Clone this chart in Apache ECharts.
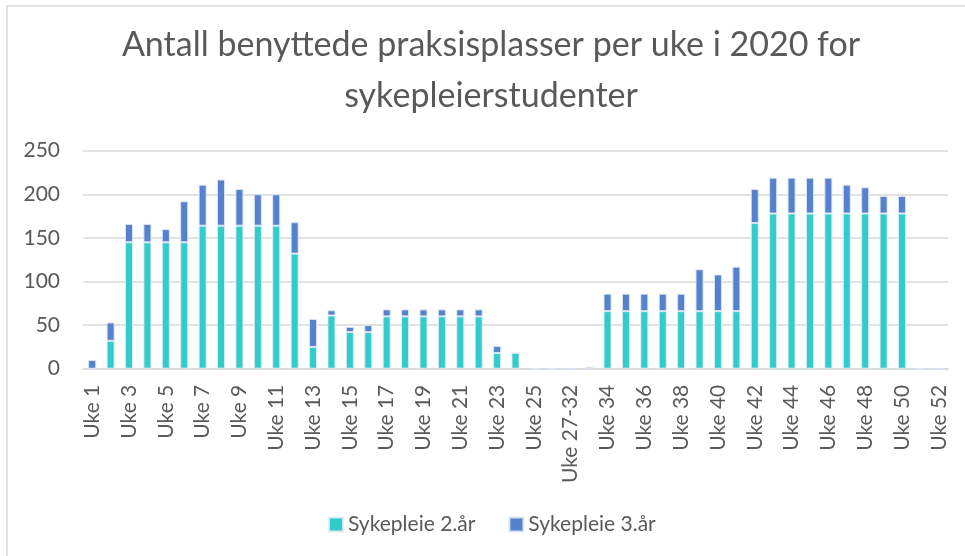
<!DOCTYPE html>
<html>
<head>
<meta charset="utf-8">
<script src="https://cdn.jsdelivr.net/npm/echarts@6/dist/echarts.min.js"></script>
<style>
html,body{margin:0;padding:0;background:#fff;}
#c{width:965px;height:556px;}
</style>
</head>
<body>
<div id="c"></div>
<script>
const categories = [
  'Uke 1','Uke 2','Uke 3','Uke 4','Uke 5','Uke 6','Uke 7','Uke 8','Uke 9','Uke 10',
  'Uke 11','Uke 12','Uke 13','Uke 14','Uke 15','Uke 16','Uke 17','Uke 18','Uke 19','Uke 20',
  'Uke 21','Uke 22','Uke 23','Uke 24','Uke 25','Uke 26','Uke 27-32','Uke 33','Uke 34','Uke 35',
  'Uke 36','Uke 37','Uke 38','Uke 39','Uke 40','Uke 41','Uke 42','Uke 43','Uke 44','Uke 45',
  'Uke 46','Uke 47','Uke 48','Uke 49','Uke 50','Uke 51','Uke 52'
];
const year2 = [
  0,32,145,145,145,145,164,164,164,164,
  164,132,25,61,42,42,60,60,60,60,
  60,60,18,18,0,0,0,0,66,66,
  66,66,66,66,66,66,167,178,178,178,
  178,178,178,178,178,0,0
];
const year3 = [
  10,21,21,21,15,47,47,53,42,36,
  36,36,32,6,6,8,8,8,8,8,
  8,8,8,0,0,0,0,2,20,20,
  20,20,20,48,42,51,39,41,41,41,
  41,33,30,20,20,0,0
];
const seriesNames = ['Sykepleie 2.år','Sykepleie 3.år'];
const yTicks = [0,50,100,150,200,250];

const txt = '#595959';
const font = 'Lato';
const chart = echarts.init(document.getElementById('c'), null, {renderer:'canvas'});
chart.setOption({
  animation:false,
  backgroundColor:'#fff',
  graphic:[{
    type:'rect', silent:true,
    shape:{x:7,y:6,width:1000,height:1000},
    style:{fill:'none',stroke:'#d9d9d9',lineWidth:1.5}
  }],
  title:{
    text:'Antall benyttede praksisplasser per uke i 2020 for\nsykepleierstudenter',
    left:491, top:20, textAlign:'center', padding:0,
    textStyle:{color:txt,fontFamily:font,fontWeight:'normal',fontSize:34,lineHeight:51}
  },
  legend:{
    data:seriesNames, left:328, top:514, padding:0,
    icon:'rect', itemWidth:14, itemHeight:14, itemGap:33,
    textStyle:{color:txt,fontFamily:font,fontSize:21}
  },
  grid:{left:83,right:17,top:150.7,bottom:187.3,containLabel:false},
  xAxis:{
    type:'category', data:categories,
    axisLine:{lineStyle:{color:'#d9d9d9',width:1.5}},
    axisTick:{show:false},
    axisLabel:{interval:1,rotate:90,margin:16,color:txt,fontFamily:font,fontSize:21}
  },
  yAxis:{
    type:'value', min:yTicks[0], max:yTicks[yTicks.length-1], interval:50,
    axisLine:{show:false}, axisTick:{show:false},
    axisLabel:{color:txt,fontFamily:font,fontSize:21,margin:23},
    splitLine:{lineStyle:{color:'#d9d9d9',width:1.5}}
  },
  series:[
    {name:seriesNames[0],type:'bar',stack:'a',data:year2,barWidth:8,
     itemStyle:{color:'#33CCCC',borderColor:'rgba(220,236,246,0.9)',borderWidth:1}},
    {name:seriesNames[1],type:'bar',stack:'a',data:year3,barWidth:8,
     itemStyle:{color:'#5681CD',borderColor:'rgba(220,230,246,0.9)',borderWidth:1}}
  ]
});
</script>
</body>
</html>
